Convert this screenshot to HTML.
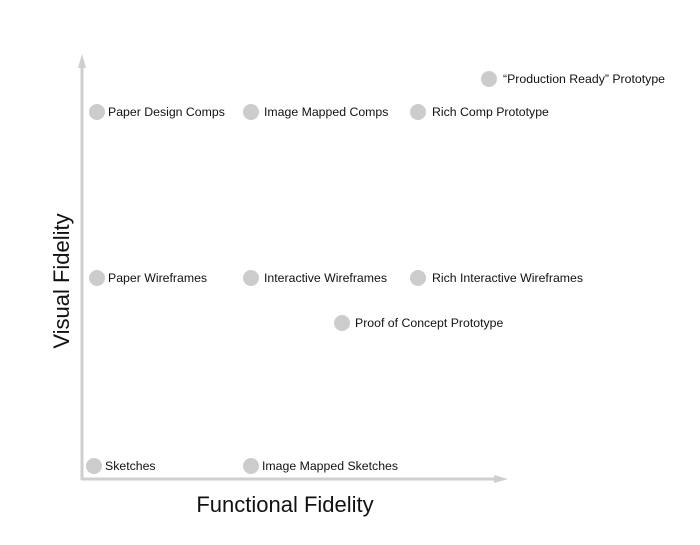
<!DOCTYPE html>
<html><head><style>
body{margin:0;width:700px;height:540px;background:#fff;overflow:hidden}
svg text{font-family:"Liberation Sans",sans-serif;fill:#111}
</style></head><body>
<svg width="700" height="540" xmlns="http://www.w3.org/2000/svg">
<line x1="82" y1="66" x2="82" y2="480" stroke="#cfcfcf" stroke-width="3"/>
<polygon points="82,54 78,68 86,68" fill="#cfcfcf"/>
<line x1="81" y1="479" x2="496" y2="479" stroke="#cfcfcf" stroke-width="3"/>
<polygon points="508,479 494,475 494,483" fill="#cfcfcf"/>
<g fill="#cccccc">
<circle cx="97" cy="112" r="8"/><circle cx="251" cy="112" r="8"/><circle cx="418" cy="112" r="8"/>
<circle cx="489" cy="79" r="8"/>
<circle cx="97" cy="278" r="8"/><circle cx="251" cy="278" r="8"/><circle cx="418" cy="278" r="8"/>
<circle cx="342" cy="323" r="8"/>
<circle cx="94" cy="466" r="8"/><circle cx="251" cy="466" r="8"/>
</g>
<g font-size="12.3">
<text x="108" y="116">Paper Design Comps</text>
<text x="264" y="116">Image Mapped Comps</text>
<text x="432" y="116">Rich Comp Prototype</text>
<text x="503" y="83">“Production Ready” Prototype</text>
<text x="108" y="282">Paper Wireframes</text>
<text x="264" y="282">Interactive Wireframes</text>
<text x="432" y="282">Rich Interactive Wireframes</text>
<text x="355" y="327">Proof of Concept Prototype</text>
<text x="105" y="470">Sketches</text>
<text x="262" y="470">Image Mapped Sketches</text>
</g>
<text x="285" y="512" font-size="22" text-anchor="middle">Functional Fidelity</text>
<text x="0" y="0" font-size="22" text-anchor="middle" transform="translate(69,281) rotate(-90)">Visual Fidelity</text>
</svg>
</body></html>
